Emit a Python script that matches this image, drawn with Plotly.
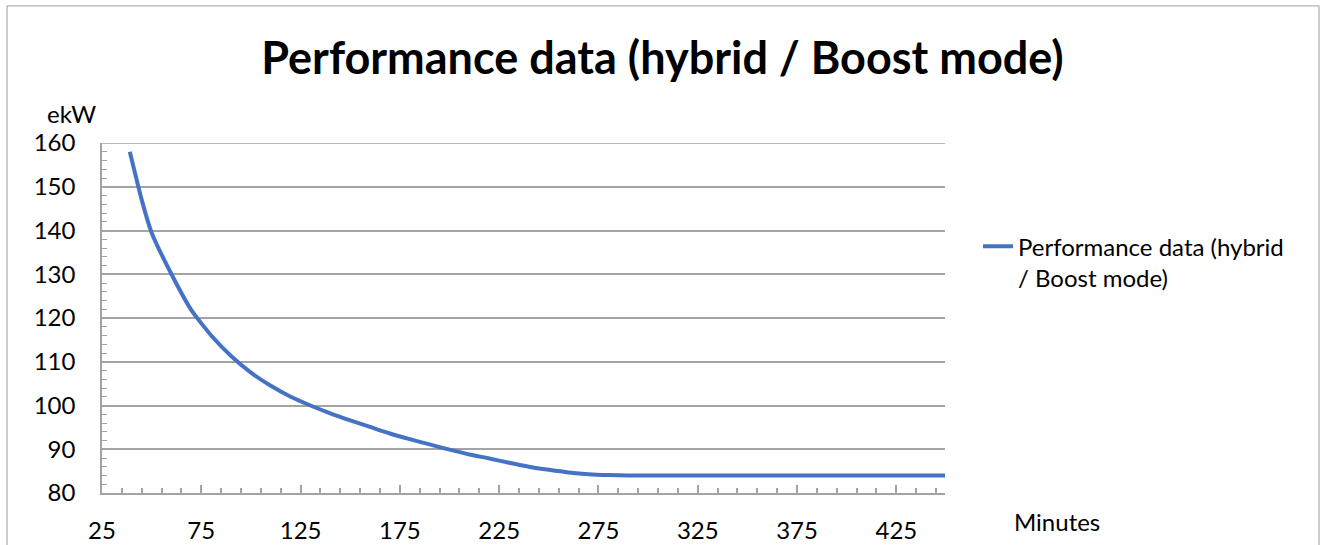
import plotly.graph_objects as go

# Data
minutes = [39, 45, 50, 60, 70, 80, 90, 100, 110, 120, 130, 140, 150, 160, 170, 180,
           190, 200, 210, 220, 230, 240, 250, 260, 270, 280, 290, 300, 310, 320,
           330, 340, 350, 360, 370, 380, 390, 400, 410, 420, 430, 440, 450]
ekw = [158.0, 147.0, 139.5, 130.0, 121.8, 116.0, 111.3, 107.5, 104.5, 102.0, 100.0,
       98.2, 96.6, 95.1, 93.6, 92.3, 91.1, 89.9, 88.8, 87.9, 86.9, 86.0, 85.3,
       84.7, 84.3, 84.1, 84.0, 84.0, 84.0, 84.0, 84.0, 84.0, 84.0, 84.0, 84.0,
       84.0, 84.0, 84.0, 84.0, 84.0, 84.0, 84.0, 84.0]
series_name = "Performance data (hybrid<br>/ Boost mode)"
title_text = "Performance data (hybrid / Boost mode)"
x_ticks = [25, 75, 125, 175, 225, 275, 325, 375, 425]

FONT = "Lato"
GRID = "#A3A3A3"

W, H = 1325, 545
L, R, T, B = 102, 945, 142.5, 493.5
pw, ph = R - L, B - T


def px(xw):
    """window x pixel -> paper coordinate"""
    return (xw - L) / pw


def py(yw):
    """window y pixel -> paper coordinate"""
    return (B - yw) / ph


fig = go.Figure()
fig.add_trace(go.Scatter(x=minutes, y=ekw, mode="lines", name=series_name,
                         line=dict(color="#4472C4", width=4, shape="spline", smoothing=0.5)))

fig.update_layout(
    width=W, height=H,
    margin=dict(l=L, r=W - R, t=T, b=H - B, autoexpand=False),
    paper_bgcolor="white", plot_bgcolor="white",
    font=dict(family=FONT, color="#000000", size=24),
    title=dict(text="<b>" + title_text + "</b>", x=662.5 / W, xref="container",
               xanchor="center", y=1 - 58 / H, yref="container", yanchor="middle",
               font=dict(family=FONT, size=45, color="#000000")),
    showlegend=True,
    legend=dict(x=px(978), y=py(224), xanchor="left", yanchor="top",
                font=dict(family=FONT, size=24), bgcolor="rgba(0,0,0,0)",
                valign="top"),
    xaxis=dict(range=[25, 449.5], tickmode="array", tickvals=x_ticks,
               ticktext=[str(v) for v in x_ticks],
               showgrid=False, zeroline=False, showline=True, linecolor=GRID, linewidth=1.5,
               ticks="inside", ticklen=8, tickcolor=GRID, tickwidth=1.5,
               minor=dict(tick0=25, dtick=10, ticks="inside", ticklen=5, tickcolor=GRID,
                          showgrid=False),
               ticklabelstandoff=15, tickfont=dict(size=24)),
    yaxis=dict(range=[80, 160], tick0=80, dtick=10, showgrid=True, gridcolor=GRID, gridwidth=1.5,
               zeroline=False, showline=True, linecolor=GRID, linewidth=1.5,
               ticks="inside", ticklen=5, tickcolor=GRID,
               minor=dict(dtick=2, ticks="inside", ticklen=5, tickcolor=GRID, showgrid=False),
               ticklabelstandoff=20, tickfont=dict(size=24)),
)

# Top gridline at the upper end of the value range
fig.add_shape(type="line", xref="paper", yref="y", x0=0, x1=1, y0=160, y1=160,
              line=dict(color=GRID, width=1.5), layer="below")

# Outer chart border
fig.add_shape(type="rect", xref="paper", yref="paper",
              x0=px(7), x1=px(1319), y0=py(580), y1=py(5),
              line=dict(color="#9E9E9E", width=1), fillcolor="rgba(0,0,0,0)", layer="below")

# Axis titles
fig.add_annotation(text="ekW", xref="paper", yref="paper", x=px(71), y=py(113),
                   showarrow=False, xanchor="center", yanchor="middle",
                   font=dict(family=FONT, size=24))
fig.add_annotation(text="Minutes", xref="paper", yref="paper", x=px(1057), y=py(522),
                   showarrow=False, xanchor="center", yanchor="middle",
                   font=dict(family=FONT, size=24))

fig.write_html("out.html", config={"displayModeBar": False},
               post_script="document.body.style.margin='0';")
